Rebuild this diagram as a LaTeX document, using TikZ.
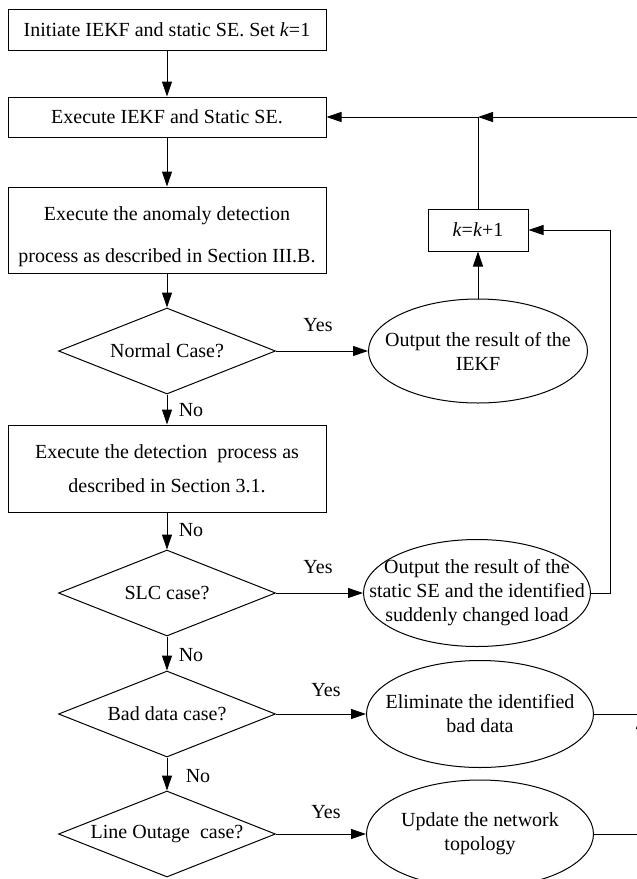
\documentclass[tikz,border=0pt]{standalone}
\usepackage{fontspec}
\setmainfont{Liberation Serif}
\usetikzlibrary{shapes.geometric,arrows.meta}
\newcommand\dfont{\fontsize{20}{24}\selectfont}
\begin{document}
\begin{tikzpicture}[x=1pt,y=-1pt,
  every node/.style={font=\dfont},
  procbox/.style={draw,line width=1pt,minimum width=318pt,inner sep=0pt,align=center},
  decision/.style={draw,diamond,aspect=2.52,minimum width=217pt,minimum height=86pt,inner sep=0pt,line width=1pt},
  outell/.style={draw,ellipse,line width=1pt,inner sep=0pt},
  txt/.style={align=center,inner sep=0pt},
  lbl/.style={inner sep=0pt},
  flow/.style={line width=1pt,-{Triangle[length=15pt,width=10pt]}},
  plain/.style={line width=1pt}]
\clip (0,0) rectangle (637,879);
% left column
\node[procbox,minimum height=41pt] (b1) at (167,29.5) {Initiate IEKF and static SE. Set \textit{k}=1};
\node[procbox,minimum height=40pt] (b2) at (167,117) {Execute IEKF and Static SE.};
\node[procbox,minimum height=86pt,
  label={[txt,yshift=-7pt]center:{Execute the anomaly detection\\[18pt]process as described in Section III.B.}}] (b3) at (167,230) {};
\node[decision] (d1) at (167,351) {Normal Case?};
\node[procbox,minimum height=87pt] (b4) at (167,468.5) {Execute the detection\ \ process as\\[10pt]described in Section 3.1.};
\node[decision] (d2) at (167,593) {SLC case?};
\node[decision] (d3) at (167,714) {Bad data case?};
\node[decision] (d4) at (167,834) {Line Outage\ \ case?};
% right column
\node[procbox,minimum width=100pt,minimum height=42pt] (kb) at (478,230) {\textit{k}=\textit{k}+1};
\node[outell,minimum width=219pt,minimum height=104pt,
  label={[txt]center:{Output the result of the\\IEKF}}] (e1) at (478,351) {};
\node[outell,minimum width=227pt,minimum height=107pt,
  label={[txt]center:{Output the result of the\\static SE and the identified\\suddenly changed load}}] (e2) at (477,593) {};
\node[outell,minimum width=227pt,minimum height=107pt,
  label={[txt]center:{Eliminate the identified\\bad data}}] (e3) at (480,714) {};
\node[outell,minimum width=227pt,minimum height=108pt,
  label={[txt]center:{Update the network\\topology}}] (e4) at (480,834) {};
% labels
\node[lbl] (no1) at (191,410) {No};
\node[lbl] (no2) at (191,530) {No};
\node[lbl] (no3) at (191,655) {No};
\node[lbl] (no4) at (198,776) {No};
\node[lbl] (y1) at (318,325) {Yes};
\node[lbl] (y2) at (318,567) {Yes};
\node[lbl] (y3) at (326,690) {Yes};
\node[lbl] (y4) at (326,812) {Yes};
% coordinates
\coordinate (J) at (kb.north |- b2.east);
\coordinate (R) at (641,117);
\coordinate (C) at (610,0);
% main flow
\draw[flow] (b1) -- (b2);
\draw[flow] (b2) -- (b3);
\draw[flow] (b3) -- (d1);
\draw[flow] (d1) -- (b4);
\draw[flow] (b4) -- (d2);
\draw[flow] (d2) -- (d3);
\draw[flow] (d3) -- (d4);
\draw[flow] (d1.east) -- (e1.west);
\draw[flow] (d2.east) -- (e2.west);
\draw[flow] (d3.east) -- (d3.east -| e3.west);
\draw[flow] (d4.east) -- (d4.east -| e4.west);
% feedback
\draw[flow] (e1) -- (kb);
\draw[plain] (kb.north) -- (J);
\draw[flow] (J) -- (b2.east);
\draw[flow] (e2.east) -- (e2.east -| C) -- (kb.east -| C) -- (kb.east);
\draw[flow] (R) -- (J);
\draw[plain] (e3.east) -- (e3.east -| R) -- (R);
\draw[flow] (e4.east) -- (e4.east -| R) -- (e3.east -| R);
\end{tikzpicture}
\end{document}
